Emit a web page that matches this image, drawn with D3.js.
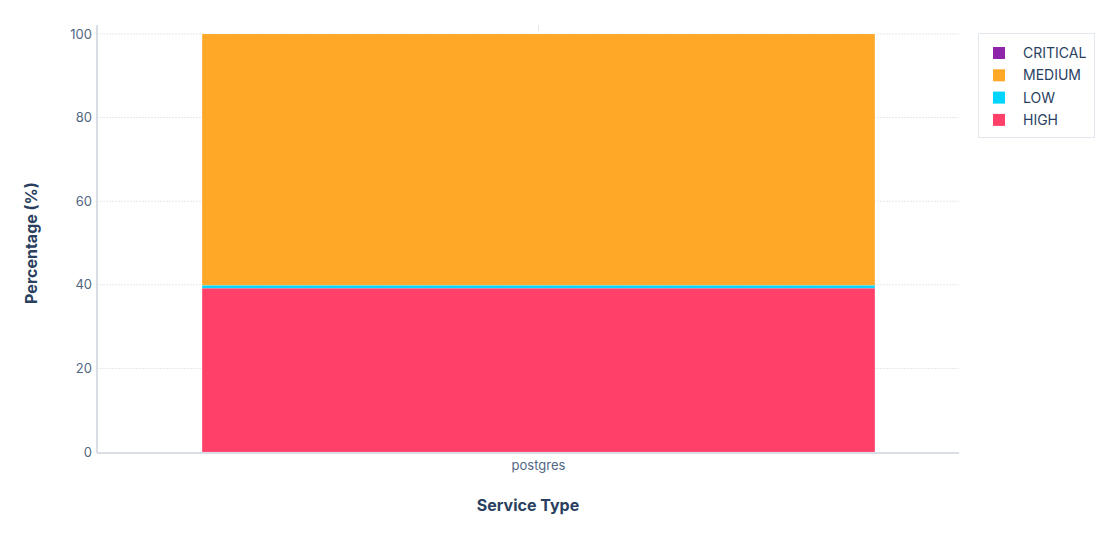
<!DOCTYPE html>
<html>
<head>
<meta charset="utf-8">
<script src="https://cdn.jsdelivr.net/npm/d3@7"></script>
<style>
  body { margin: 0; background: #fff; }
  text { font-family: Inter, "Open Sans", sans-serif; }
</style>
</head>
<body>
<div id="chart"></div>
<script>
'use strict';

// data
var categories = ["postgres"];
var severities = ["HIGH", "LOW", "MEDIUM", "CRITICAL"]; // stacking order, bottom up
var highValues = [39.2];
var lowValues = [0.7];
var mediumValues = [60.1];
var criticalValues = [0.0];
var yTicks = [0, 20, 40, 60, 80, 100];

var colors = {
    "CRITICAL": "#8e24aa",
    "MEDIUM": "#ffa726",
    "LOW": "#00d4ff",
    "HIGH": "#ff4069"
};

var width = 1110, height = 534;
var margin = {top: 34, right: 151, bottom: 82, left: 97};
var plotW = width - margin.left - margin.right;
var plotH = height - margin.top - margin.bottom;

var svg = d3.select("#chart").append("svg")
    .attr("width", width)
    .attr("height", height);

var g = svg.append("g")
    .attr("transform", "translate(" + margin.left + "," + margin.top + ")");

// build table for stacking
var rows = categories.map(function(c, i) {
    return {cat: c, HIGH: highValues[i], LOW: lowValues[i], MEDIUM: mediumValues[i], CRITICAL: criticalValues[i]};
});
var series = d3.stack().keys(severities)(rows);

var x = d3.scaleBand()
    .domain(categories)
    .range([21, plotW])
    .paddingOuter(0.125)
    .paddingInner(0);

var y = d3.scaleLinear()
    .domain([0, 100])
    .range([plotH, 0]);

// gridlines
g.selectAll(".grid")
    .data(yTicks.slice(1))
    .enter().append("line")
    .attr("x1", 0)
    .attr("x2", plotW)
    .attr("y1", function(d) { return y(d); })
    .attr("y2", function(d) { return y(d); })
    .attr("stroke", "#e3e8ee")
    .attr("stroke-width", 1)
    .attr("stroke-dasharray", "2,1");

// bars
g.selectAll(".layer")
    .data(series)
    .enter().append("g")
    .attr("fill", function(d) { return colors[d.key]; })
    .selectAll("rect")
    .data(function(d) { return d; })
    .enter().append("rect")
    .attr("x", function(d) { return x(d.data.cat); })
    .attr("width", x.bandwidth())
    .attr("y", function(d) { return y(d[1]); })
    .attr("height", function(d) { return Math.max(0, y(d[0]) - y(d[1])); })
    .attr("stroke", "#fff")
    .attr("stroke-width", 0.3)
    .attr("stroke-dasharray", "1,1");

// y axis
var yAxis = g.append("g")
    .call(d3.axisLeft(y).tickValues(yTicks).tickSize(0).tickPadding(5));
yAxis.select(".domain").remove();
yAxis.selectAll("text")
    .attr("fill", "#506784")
    .style("font-size", "13px");
g.append("line")
    .attr("x1", 0).attr("x2", 0)
    .attr("y1", -9).attr("y2", plotH + 1)
    .attr("stroke", "#d8dee4")
    .attr("stroke-width", 2);

// x axis
var xAxis = g.append("g")
    .attr("transform", "translate(0," + plotH + ")")
    .call(d3.axisBottom(x).tickSize(0).tickPadding(9));
xAxis.select(".domain").remove();
xAxis.selectAll("text")
    .attr("fill", "#506784")
    .style("font-size", "13px");
g.append("line")
    .attr("x1", 0).attr("x2", plotW)
    .attr("y1", plotH + 1).attr("y2", plotH + 1)
    .attr("stroke", "#d8dee4")
    .attr("stroke-width", 2);

// small tick at top of category
g.append("line")
    .attr("x1", x("postgres") + x.bandwidth() / 2)
    .attr("x2", x("postgres") + x.bandwidth() / 2)
    .attr("y1", -9).attr("y2", -3)
    .attr("stroke", "#e3e8ee");

// axis titles
svg.append("text")
    .attr("x", margin.left + plotW / 2)
    .attr("y", 511)
    .attr("text-anchor", "middle")
    .attr("fill", "#2a3f5f")
    .style("font-size", "16px")
    .style("font-weight", "bold")
    .text("Service Type");

svg.append("text")
    .attr("transform", "translate(37," + (margin.top + plotH / 2) + ") rotate(-90)")
    .attr("text-anchor", "middle")
    .attr("fill", "#2a3f5f")
    .style("font-size", "16px")
    .style("font-weight", "bold")
    .text("Percentage (%)");

// legend
var legendKeys = severities.slice().reverse();
var legend = svg.append("g")
    .attr("transform", "translate(978,33)");
legend.append("rect")
    .attr("x", 0.5).attr("y", 0.5)
    .attr("width", 116).attr("height", 104)
    .attr("fill", "#fff")
    .attr("stroke", "#e3e8ee");
var items = legend.selectAll(".item")
    .data(legendKeys)
    .enter().append("g")
    .attr("transform", function(d, i) { return "translate(0," + (20 + i * 22.3) + ")"; });
items.append("rect")
    .attr("x", 15).attr("y", -6)
    .attr("width", 12).attr("height", 12)
    .attr("fill", function(d) { return colors[d]; });
items.append("text")
    .attr("x", 45)
    .attr("y", 5)
    .attr("fill", "#2a3f5f")
    .style("font-size", "14px")
    .text(function(d) { return d; });
</script>
</body>
</html>
